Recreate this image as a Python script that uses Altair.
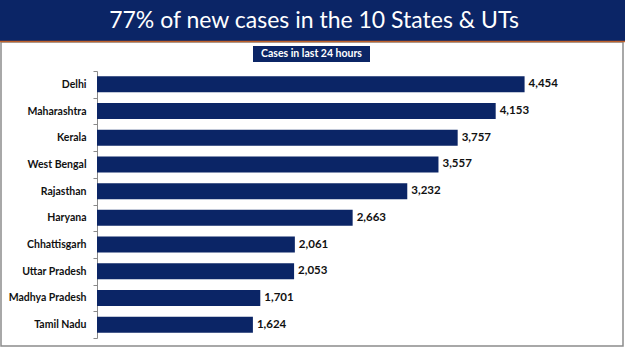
import altair as alt
import pandas as pd

TITLE = "77% of new cases in the 10 States & UTs"
SUBTITLE = "Cases in last 24 hours"
states = ["Delhi", "Maharashtra", "Kerala", "West Bengal", "Rajasthan",
          "Haryana", "Chhattisgarh", "Uttar Pradesh", "Madhya Pradesh", "Tamil Nadu"]
cases = [4454, 4153, 3757, 3557, 3232, 2663, 2061, 2053, 1701, 1624]
labels = [f"{v:,}" for v in cases]

df = pd.DataFrame({"state": states, "cases": cases, "label": labels})
deco = pd.DataFrame({"title": [TITLE], "sub": [SUBTITLE]})

NAVY = "#0b2566"
L, T = 97, 71  # plot origin inside the 625x351 canvas

ysc = alt.Scale(paddingInner=0, paddingOuter=0)
y_axis = alt.Y("state:N", sort=states, scale=ysc,
               axis=alt.Axis(title=None, tickBand="extent", domainColor="#8a8a8a",
                             tickColor="#8a8a8a", tickSize=4, domainWidth=1,
                             labelFont="Lato", labelFontWeight="bold", labelFontSize=10.5,
                             labelColor="#111111", labelPadding=7, grid=False))
x_enc = alt.X("cases:Q", scale=alt.Scale(domain=[0, 5000]), axis=None)

bars = alt.Chart(df).mark_bar(color=NAVY, size=16).encode(x=x_enc, y=y_axis)
vals = alt.Chart(df).mark_text(align="left", dx=4, font="Lato", fontWeight="bold",
                               fontSize=11.5, color="#111111").encode(
    x=x_enc, y=alt.Y("state:N", sort=states), text="label:N")

d = alt.Chart(deco)
banner = d.mark_rect(color=NAVY).encode(
    x=alt.value(-L), x2=alt.value(625 - L), y=alt.value(-T), y2=alt.value(41 - T))
border = d.mark_rect(filled=False, stroke="#8c8c8c", strokeWidth=1.5).encode(
    x=alt.value(1 - L), x2=alt.value(623 - L), y=alt.value(42 - T), y2=alt.value(346 - T))
orange = d.mark_rule(color="#c0622b", strokeWidth=1.5).encode(
    x=alt.value(-L), x2=alt.value(625 - L), y=alt.value(41.5 - T))
subbox = d.mark_rect(color=NAVY).encode(
    x=alt.value(253 - L), x2=alt.value(370 - L), y=alt.value(46 - T), y2=alt.value(62 - T))
title = d.mark_text(font="Lato", fontSize=23, color="white", align="center",
                    baseline="middle").encode(
    x=alt.value(314 - L), y=alt.value(21 - T), text="title:N")
sub = d.mark_text(font="Lato", fontWeight="bold", fontSize=10.5, color="white",
                  align="center", baseline="middle").encode(
    x=alt.value(311.5 - L), y=alt.value(54 - T), text="sub:N")

chart = alt.layer(banner, border, orange, subbox, title, sub, bars, vals).properties(
    width=480, height=267,
    autosize=alt.AutoSizeParams(type="none"),
    padding={"left": L, "top": T, "right": 625 - L - 480, "bottom": 351 - T - 267},
    background="white",
).configure_view(stroke=None)

chart.save("out.html", embed_options={"renderer": "svg", "actions": False})
